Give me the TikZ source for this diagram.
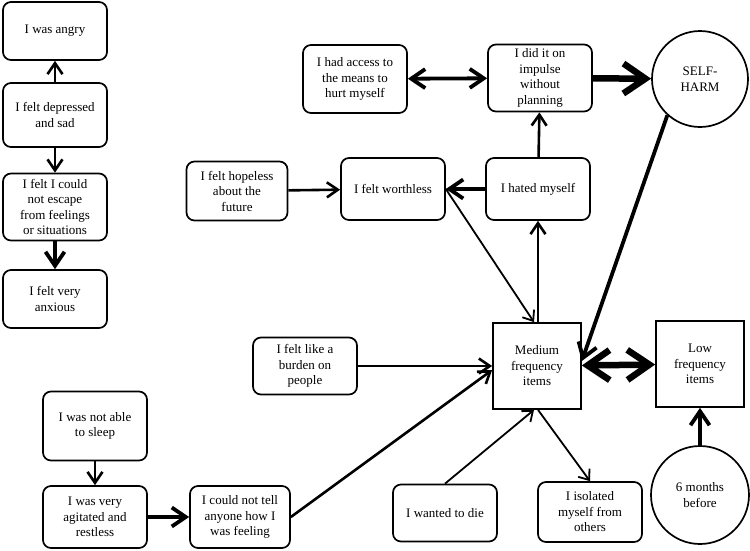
\documentclass[tikz,border=0pt]{standalone}
\usepackage{fontspec}
\setmainfont{Liberation Serif}
\usetikzlibrary{arrows.meta, positioning}

\begin{document}
\begin{tikzpicture}[x=1pt, y=-1pt, font=\fontsize{13}{15.5}\selectfont,
  box/.style={draw, line width=1.7pt, rounded corners=8pt, align=center, minimum width=104pt, minimum height=62pt, inner sep=2pt},
  sq/.style={draw, line width=1.7pt, align=center, minimum width=88pt, minimum height=86pt, inner sep=2pt},
  ring/.style={draw, circle, line width=1.7pt, align=center, minimum size=96pt, inner sep=0pt},
  arrthin/.style={line width=1.8pt, -{Straight Barb[length=9pt, width=14pt]}},
  arrmid/.style={line width=2.6pt, -{Straight Barb[length=11pt, width=15pt]}},
  arrthick/.style={line width=3.8pt, -{Straight Barb[length=14pt, width=19pt]}},
  arrheavy/.style={line width=6.5pt, -{Straight Barb[length=22pt, width=30pt]}},
  boththick/.style={line width=3.8pt, {Straight Barb[length=14pt, width=19pt]}-{Straight Barb[length=14pt, width=19pt]}},
  bothheavy/.style={line width=6.5pt, {Straight Barb[length=22pt, width=30pt]}-{Straight Barb[length=22pt, width=30pt]}}]
\useasboundingbox (0,0) rectangle (750,550);
% left column
\node[box, minimum height=58pt] (angry) at (55,31) {I was angry};
\node[box, minimum height=64pt] (sad) at (55,115) {I felt depressed\\and sad};
\node[box, minimum height=67pt] (escape) at (55,207) {I felt I could\\not escape\\from feelings\\or situations};
\node[box, minimum height=58pt] (anxious) at (55,299) {I felt very\\anxious};
% top
\node[box, minimum height=68pt] (access) at (355,79) {I had access to\\the means to\\hurt myself};
\node[box, minimum height=67pt] (impulse) at (540,78) {I did it on\\impulse\\without\\planning};
\node[ring] (selfharm) at (700,79) {SELF-\\HARM};
\node[box, minimum height=59pt, minimum width=101pt] (hopeless) at (237,191) {I felt hopeless\\about the\\future};
\node[box] (worthless) at (393,189) {I felt worthless};
\node[box] (hated) at (538,189) {I hated myself};
% middle
\node[box, minimum height=57pt] (burden) at (305,366) {I felt like a\\burden on\\people};
\node[sq] (medium) at (537,366) {Medium\\frequency\\items};
\node[sq] (low) at (700,364) {Low\\frequency\\items};
% bottom
\node[box, minimum height=69pt] (sleep) at (95,426) {I was not able\\to sleep};
\node[box] (agitated) at (95,517) {I was very\\agitated and\\restless};
\node[box, minimum width=100pt] (tell) at (240,517) {I could not tell\\anyone how I\\was feeling};
\node[box, minimum height=57pt] (die) at (445,513) {I wanted to die};
\node[box, minimum height=60pt] (isolated) at (590,512) {I isolated\\myself from\\others};
\node[ring, minimum size=98pt] (months) at (700,495) {6 months\\before};
% connectors
\draw[arrmid] (sad) -- (angry);
\draw[arrmid] (sad) -- (escape);
\draw[arrthick] (escape) -- (anxious);
\draw[boththick] (access) -- (impulse);
\draw[arrheavy] (impulse) -- (selfharm);
\draw[arrmid] (hated) -- (impulse);
\draw[arrthick] (hated) -- (worthless);
\draw[arrmid] (hopeless) -- (worthless);
\draw[arrthin] (worthless.east) -- ([xshift=-3pt]medium.north);
\draw[arrmid] ([xshift=1pt]medium.north) -- (hated.south);
\draw[arrthick] (selfharm.228) -- ([yshift=5pt]medium.east);
\draw[bothheavy] (medium) -- (low);
\draw[arrmid] (burden) -- (medium.west);
\draw[arrmid] (tell.east) -- ([yshift=-4pt]medium.west);
\draw[arrthin] (die.north) -- ([xshift=-3pt]medium.south);
\draw[arrthin] ([xshift=1pt]medium.south) -- (isolated.north);
\draw[arrthick] (months) -- (low);
\draw[arrmid] (sleep) -- (agitated);
\draw[arrthick] (agitated) -- (tell);
\end{tikzpicture}
\end{document}
